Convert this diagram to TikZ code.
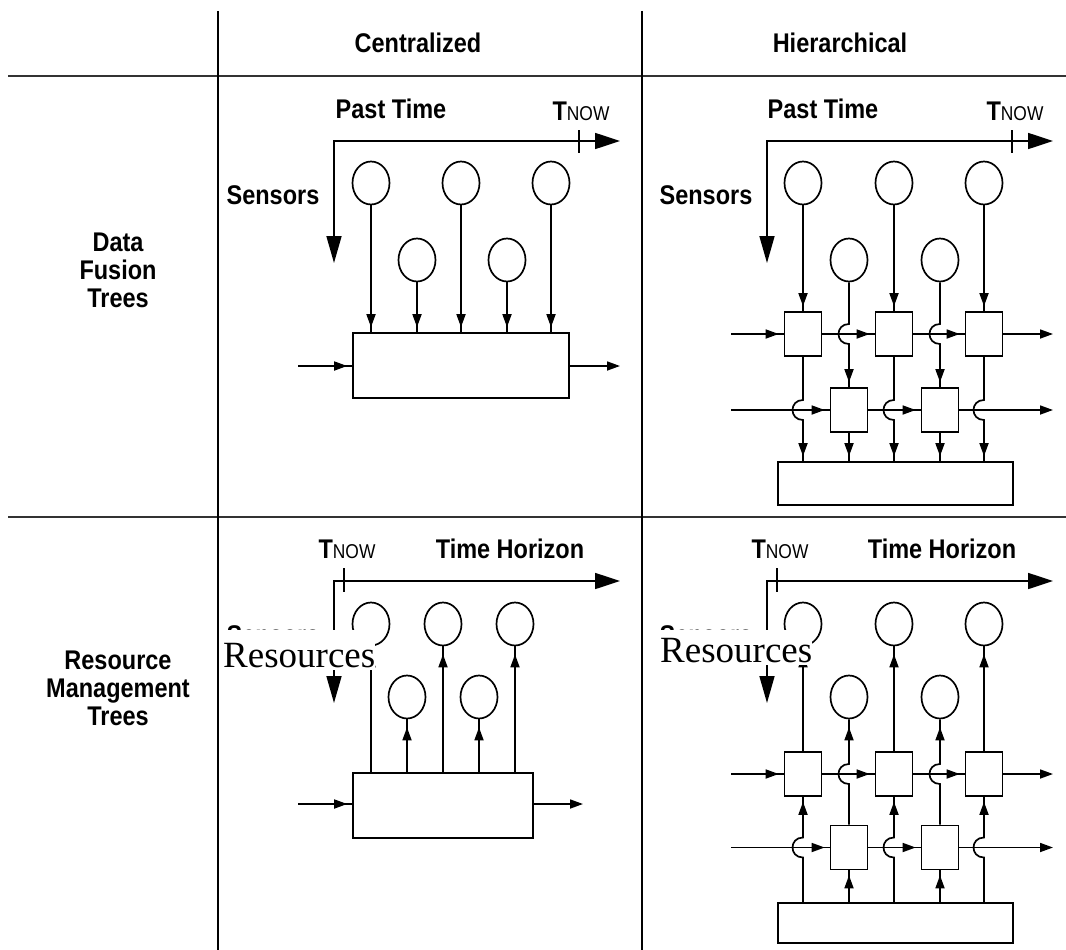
\documentclass[tikz,border=0pt]{standalone}
\usepackage{fontspec}
\setmainfont{Liberation Sans}
\newfontfamily\resfont{Liberation Serif}
\usetikzlibrary{arrows.meta,shapes.geometric,decorations.markings}

% condensed label text
\newcommand\nw[1]{\scalebox{0.87}[1]{#1}}
% vertical line hopping (bulge to the left) over a horizontal line at (x,y)
\newcommand\hopD[2]{-- (#1,#2-10) .. controls (#1-14,#2-10) and (#1-14,#2+10) .. (#1,#2+10)}
\newcommand\hopU[2]{-- (#1,#2+10) .. controls (#1-14,#2+10) and (#1-14,#2-10) .. (#1,#2-10)}
\newcommand\tnow{\nw{\bfseries T}\nw{\mdseries\fontsize{20}{20}\selectfont NOW}}

\begin{document}
\begin{tikzpicture}[x=1pt,y=-1pt,
  line/.style={line width=1.7pt},
  ar/.style={line, postaction={decorate},
    decoration={markings, mark=at position #1 with {\arrow{Triangle[length=13pt,width=9pt]}}}},
  ar/.default=-5pt,
  ao/.style={line, -{Triangle[length=13pt,width=9pt]}},
  axis/.style={line, {Triangle[length=27pt,width=15pt]}-{Triangle[length=25pt,width=16pt]}},
  lab/.style={font=\bfseries\fontsize{27}{28}\selectfont, inner sep=0},
  circ/.style={draw, ellipse, line width=1.7pt, inner sep=0, minimum width=37pt, minimum height=43pt},
  blk/.style={draw, line width=1.7pt, inner sep=0, minimum width=37pt, minimum height=44pt},
  res/.style={font=\resfont\fontsize{37}{37}\selectfont, fill=white, inner sep=0, text depth=3pt},
  rule/.style={line width=2.4pt, black!80},
  vrule/.style={line width=2pt}]
\useasboundingbox (0,0) rectangle (1066,950);

% table rules
\draw[rule] (8,76) -- (1066,76);
\draw[rule] (8,517) -- (1066,517);
\draw[vrule] (218,11) -- (218,950);
\draw[vrule] (642,11) -- (642,950);

% headers
\node[lab] (hc) at (418,43) {\nw{Centralized}};
\node[lab] (hh) at (840,43) {\nw{Hierarchical}};
\node[lab, align=center] (rd) at (118,270) {\nw{Data}\\\nw{Fusion}\\\nw{Trees}};
\node[lab, align=center] (rr) at (118,688) {\nw{Resource}\\\nw{Management}\\\nw{Trees}};

% ---------- centralized data fusion ----------
\node[lab, anchor=base] (pt1) at (391,118) {\nw{Past Time}};
\node[lab, anchor=base] (tn1) at (581,121) {\tnow};
\node[lab, anchor=base] (se1) at (273,204) {\nw{Sensors}};
\coordinate (x1) at (620,141); \coordinate (y1) at (334,263);
\draw[axis] (y1) |- (x1);
\coordinate (k1a) at (579,130); \coordinate (k1b) at (579,153);
\draw[line] (k1a) -- (k1b);
\node[circ] (c11) at (371,183) {};
\node[circ] (c12) at (461,183) {};
\node[circ] (c13) at (551,183) {};
\node[circ] (d11) at (417,260) {};
\node[circ] (d12) at (507,260) {};
\node[blk, minimum width=216pt, minimum height=65pt] (m1) at (461,365.5) {};
\foreach \c in {c11,d11,c12,d12,c13} \draw[ar] (\c) -- (\c |- m1.north);
\coordinate (in1) at (298,366); \coordinate (out1) at (620,366);
\draw[ar] (in1) -- (in1 -| m1.west);
\draw[ao] (m1.east |- out1) -- (out1);

% ---------- hierarchical data fusion ----------
\node[lab, anchor=base] (pt2) at (823,118) {\nw{Past Time}};
\node[lab, anchor=base] (tn2) at (1015,121) {\tnow};
\node[lab, anchor=base] (se2) at (706,204) {\nw{Sensors}};
\coordinate (x2) at (1053,141); \coordinate (y2) at (767,263);
\draw[axis] (y2) |- (x2);
\coordinate (k2a) at (1012,130); \coordinate (k2b) at (1012,153);
\draw[line] (k2a) -- (k2b);
\node[circ] (t21) at (803,183) {};
\node[circ] (t22) at (894,183) {};
\node[circ] (t23) at (984,183) {};
\node[circ] (u21) at (849,260) {};
\node[circ] (u22) at (940,260) {};
\node[blk] (p21) at (803,334) {};
\node[blk] (p22) at (894,334) {};
\node[blk] (p23) at (984,334) {};
\node[blk] (q21) at (849,410) {};
\node[blk] (q22) at (940,410) {};
\node[blk, minimum width=235pt, minimum height=43pt] (b2) at (895.5,483.5) {};
\coordinate (i21) at (731,334); \coordinate (o21) at (1053,334);
\coordinate (i22) at (731,410); \coordinate (o22) at (1053,410);
\draw[ar] (t21) -- (p21);
\draw[ar] (t22) -- (p22);
\draw[ar] (t23) -- (p23);
\draw[ar] (u21) \hopD{849}{334} -- (q21.north);
\draw[ar] (u22) \hopD{940}{334} -- (q22.north);
\draw[ar] (i21) -- (p21.west);
\draw[ar] (p21) -- (p22);
\draw[ar] (p22) -- (p23);
\draw[ao] (p23) -- (o21);
\draw[ar] (i22) -- (q21.west);
\draw[ar] (q21) -- (q22);
\draw[ao] (q22) -- (o22);
\draw[ar] (p21) \hopD{803}{410} -- (p21 |- b2.north);
\draw[ar] (p22) \hopD{894}{410} -- (p22 |- b2.north);
\draw[ar] (p23) \hopD{984}{410} -- (p23 |- b2.north);
\draw[ar] (q21) -- (q21 |- b2.north);
\draw[ar] (q22) -- (q22 |- b2.north);

% ---------- centralized resource management ----------
\node[lab, anchor=base] (tn3) at (347,558) {\tnow};
\node[lab, anchor=base] (th3) at (510,558) {\nw{Time Horizon}};
\node[lab, anchor=base] (se3) at (273,644) {\nw{Sensors}};
\coordinate (x3) at (620,581); \coordinate (y3) at (334,703);
\draw[axis] (y3) |- (x3);
\coordinate (k3a) at (344,568); \coordinate (k3b) at (344,592);
\draw[line] (k3a) -- (k3b);
\node[circ] (v31) at (371,624) {};
\node[circ] (v32) at (443,624) {};
\node[circ] (v33) at (515,624) {};
\node[circ] (w31) at (407,697) {};
\node[circ] (w32) at (479,697) {};
\node[blk, minimum width=180pt, minimum height=65pt] (m3) at (443,805.5) {};
\foreach \c in {v31,w31,v32,w32,v33} \draw[ar=-8pt] (m3.north -| \c) -- (\c);
\coordinate (in3) at (298,804); \coordinate (out3) at (583,804);
\draw[ar] (in3) -- (in3 -| m3.west);
\draw[ao] (m3.east |- out3) -- (out3);
\node[res, anchor=base west, text height=37pt] (rs3) at (223,667) {Resources};

% ---------- hierarchical resource management ----------
\node[lab, anchor=base] (tn4) at (780,558) {\tnow};
\node[lab, anchor=base] (th4) at (942,558) {\nw{Time Horizon}};
\node[lab, anchor=base] (se4) at (706,644) {\nw{Sensors}};
\coordinate (x4) at (1053,581); \coordinate (y4) at (767,703);
\draw[axis] (y4) |- (x4);
\coordinate (k4a) at (777,568); \coordinate (k4b) at (777,592);
\draw[line] (k4a) -- (k4b);
\node[circ] (t41) at (803,624) {};
\node[circ] (t42) at (894,624) {};
\node[circ] (t43) at (984,624) {};
\node[circ] (u41) at (849,697) {};
\node[circ] (u42) at (940,697) {};
\node[blk] (p41) at (803,774) {};
\node[blk] (p42) at (894,774) {};
\node[blk] (p43) at (984,774) {};
\node[blk] (q41) at (849,847.5) {};
\node[blk] (q42) at (940,847.5) {};
\node[blk, minimum width=235pt, minimum height=40pt] (b4) at (895.5,923) {};
\coordinate (i41) at (731,774); \coordinate (o41) at (1053,774);
\coordinate (i42) at (731,847.5); \coordinate (o42) at (1053,847.5);
\draw[ar=-8pt] (p41) -- (t41);
\draw[ar=-8pt] (p42) -- (t42);
\draw[ar=-8pt] (p43) -- (t43);
\draw[ar=-8pt] (q41) \hopU{849}{774} -- (u41.south);
\draw[ar=-8pt] (q42) \hopU{940}{774} -- (u42.south);
\draw[ar] (i41) -- (p41.west);
\draw[ar] (p41) -- (p42);
\draw[ar] (p42) -- (p43);
\draw[ao] (p43) -- (o41);
\draw[ar] (i42) -- (q41.west);
\draw[ar] (q41) -- (q42);
\draw[ao] (q42) -- (o42);
\draw[ar] (b4.north -| q41) -- (q41);
\draw[ar] (b4.north -| q42) -- (q42);
\draw[ar] (b4.north -| p41) \hopU{803}{847.5} -- (p41.south);
\draw[ar] (b4.north -| p42) \hopU{894}{847.5} -- (p42.south);
\draw[ar] (b4.north -| p43) \hopU{984}{847.5} -- (p43.south);
\node[res, anchor=base west, text height=32pt] (rs4) at (660,662) {Resources};
\end{tikzpicture}
\end{document}
